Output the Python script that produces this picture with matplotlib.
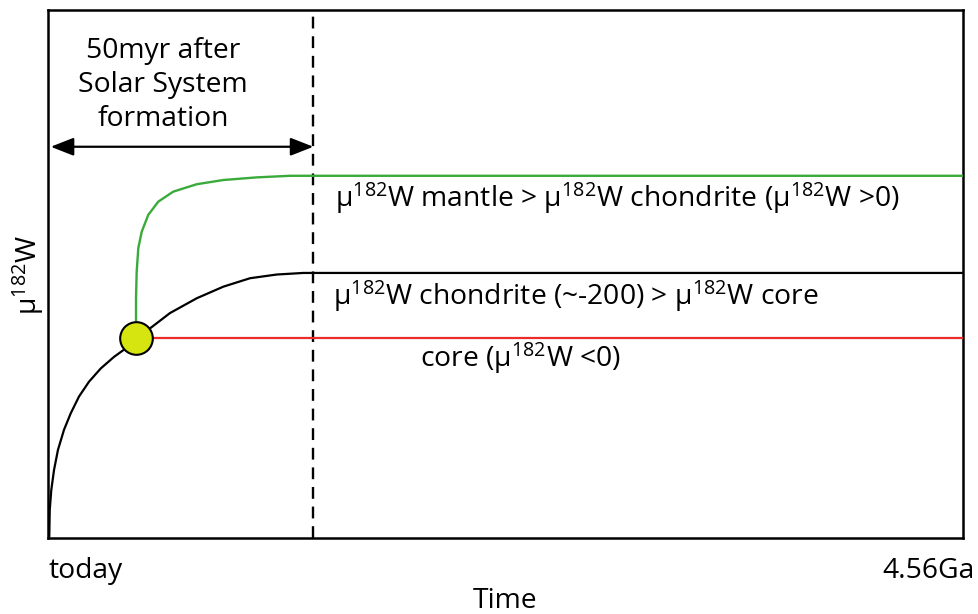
import matplotlib
matplotlib.use("Agg")
import matplotlib.pyplot as plt

plt.rcParams['font.family'] = ['Open Sans', 'DejaVu Sans']
plt.rcParams['mathtext.fontset'] = 'custom'
plt.rcParams['mathtext.rm'] = 'Open Sans'
plt.rcParams['mathtext.it'] = 'Open Sans:italic'

# black curve: chondritic evolution
chond_x = [0, 0.14, 0.19, 0.36, 0.66, 1.09, 1.75, 2.48, 3.39, 4.48, 5.76, 7.21, 8.49,
           11.15, 13.33, 16.25, 19.16, 22.08, 24.99, 27.90, 28.93, 100]
chond_y = [0, 0.25, 5.3, 9.1, 12.9, 16.7, 20.5, 23.6, 26.8, 29.6, 32.1, 34.3, 35.9,
           39.7, 42.6, 45.4, 47.6, 49.2, 49.9, 50.2, 50.2, 50.2]

# green curve: mantle after core separation
mantle_x = [9.62, 9.62, 9.62, 9.69, 9.87, 10.24, 10.96, 12.05, 13.69, 16.25, 19.16,
            22.81, 26.45, 28.93, 100]
mantle_y = [37.9, 41.0, 45.4, 50.4, 54.9, 58.0, 61.2, 63.7, 65.6, 67.0, 67.8,
            68.3, 68.6, 68.6, 68.6]

# red line: core frozen at separation value
core_x = [9.62, 100]
core_y = [37.9, 37.9]

# core formation point and 50 Myr marker
sep_x, sep_y = 9.62, 37.9
cutoff_x = 29.0
arrow_y = 74.1

mu = 'µ$^{182}$W'
fs = 20.3

fig = plt.figure(figsize=(9.79, 6.14), dpi=100)
ax = fig.add_axes([0.04903, 0.12378, 0.93463, 0.85993])
ax.set_xlim(0, 100)
ax.set_ylim(0, 100)
ax.set_xticks([])
ax.set_yticks([])
for s in ax.spines.values():
    s.set_linewidth(1.8)

ax.plot(chond_x, chond_y, color='black', lw=1.6, solid_joinstyle='round', zorder=3)
ax.plot(mantle_x, mantle_y, color='#3aaa3a', lw=1.7, solid_joinstyle='round', zorder=3)
ax.plot(core_x, core_y, color='#ec2b2b', lw=1.6, zorder=3)
ax.plot([sep_x], [sep_y], 'o', ms=23.5, mfc='#d6e40f', mec='black', mew=1.5, zorder=5)

ax.axvline(cutoff_x, color='black', lw=1.7, ls=(0, (5, 3.3)), zorder=2)

ax.annotate('', xy=(0.3, arrow_y), xytext=(cutoff_x, arrow_y),
            arrowprops=dict(arrowstyle='<|-|>,head_length=1.4,head_width=0.55',
                            color='black', lw=1.6, shrinkA=0, shrinkB=0))
ax.text(12.57, 85.8, '50myr after\nSolar System\nformation', ha='center', va='center',
        fontsize=fs, linespacing=1.28)

ax.text(31.37, 62.7, f'{mu} mantle > {mu} chondrite ({mu} >0)', fontsize=fs, va='baseline')
ax.text(31.15, 44.1, f'{mu} chondrite (~-200) > {mu} core', fontsize=fs, va='baseline')
ax.text(40.66, 32.4, f'core ({mu} <0)', fontsize=fs, va='baseline')

ax.text(0.0, -0.0758, 'today', transform=ax.transAxes, fontsize=fs, va='baseline', ha='left')
ax.text(1.013, -0.0758, '4.56Ga', transform=ax.transAxes, fontsize=fs, va='baseline', ha='right')
ax.text(0.4995, -0.1326, 'Time', transform=ax.transAxes, fontsize=fs, va='baseline', ha='center')
ax.text(-0.0219, 0.498, mu, transform=ax.transAxes, fontsize=fs, rotation=90,
        ha='center', va='center')

fig.savefig('out.png', dpi=100)
